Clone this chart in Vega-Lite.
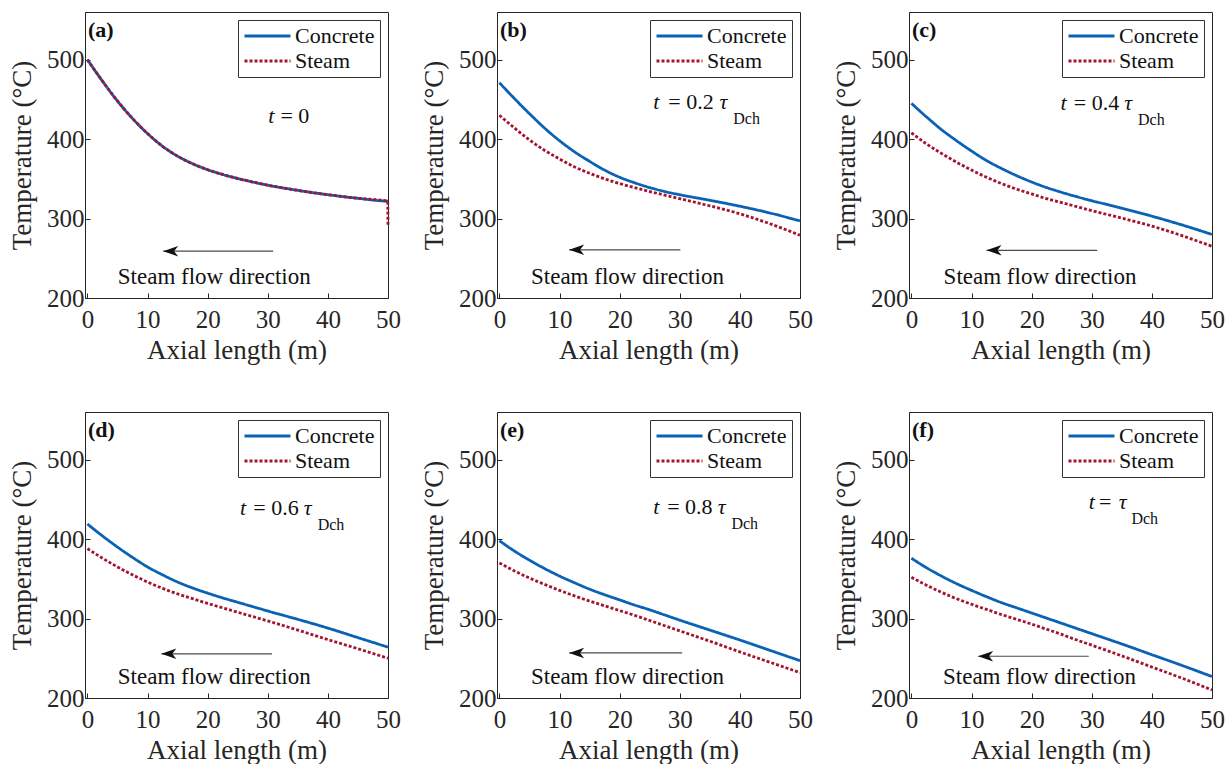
{
  "$schema": "https://vega.github.io/schema/vega-lite/v6.json",
  "padding": {"left": 8, "top": 11, "right": 0, "bottom": 0},
  "background": "white",
  "datasets": {
    "lines": [
      {"p":"a","x":0,"Concrete":500,"Steam":500},{"p":"a","x":2.5,"Concrete":473,"Steam":473},{"p":"a","x":5,"Concrete":448,"Steam":448},{"p":"a","x":7.5,"Concrete":426,"Steam":426},{"p":"a","x":10,"Concrete":407,"Steam":407},{"p":"a","x":12.5,"Concrete":391,"Steam":391},{"p":"a","x":15,"Concrete":378.5,"Steam":378.5},{"p":"a","x":17.5,"Concrete":369,"Steam":369},{"p":"a","x":20,"Concrete":361.5,"Steam":361.5},{"p":"a","x":22.5,"Concrete":355.5,"Steam":355.5},{"p":"a","x":25,"Concrete":350.5,"Steam":350.5},{"p":"a","x":27.5,"Concrete":346,"Steam":346},{"p":"a","x":30,"Concrete":342,"Steam":342},{"p":"a","x":35,"Concrete":335.5,"Steam":335.5},{"p":"a","x":40,"Concrete":330,"Steam":330},{"p":"a","x":45,"Concrete":325.5,"Steam":325.5},{"p":"a","x":49.95,"Concrete":322,"Steam":322},{"p":"a","x":50,"Concrete":322,"Steam":290},
      {"p":"b","x":0,"Concrete":471,"Steam":430},{"p":"b","x":2.5,"Concrete":451,"Steam":414},{"p":"b","x":5,"Concrete":432,"Steam":399},{"p":"b","x":7.5,"Concrete":414,"Steam":386},{"p":"b","x":10,"Concrete":398,"Steam":375},{"p":"b","x":12.5,"Concrete":384,"Steam":365},{"p":"b","x":15,"Concrete":372,"Steam":357},{"p":"b","x":17.5,"Concrete":361,"Steam":350},{"p":"b","x":20,"Concrete":352,"Steam":344},{"p":"b","x":22.5,"Concrete":345,"Steam":339},{"p":"b","x":25,"Concrete":339,"Steam":334},{"p":"b","x":27.5,"Concrete":334,"Steam":329.5},{"p":"b","x":30,"Concrete":330,"Steam":325},{"p":"b","x":35,"Concrete":323,"Steam":316},{"p":"b","x":40,"Concrete":315.5,"Steam":306},{"p":"b","x":45,"Concrete":307,"Steam":293.5},{"p":"b","x":50,"Concrete":297,"Steam":279},
      {"p":"c","x":0,"Concrete":445,"Steam":408},{"p":"c","x":2.5,"Concrete":428,"Steam":394},{"p":"c","x":5,"Concrete":412,"Steam":382},{"p":"c","x":7.5,"Concrete":398,"Steam":371},{"p":"c","x":10,"Concrete":385,"Steam":361},{"p":"c","x":12.5,"Concrete":373,"Steam":352},{"p":"c","x":15,"Concrete":363,"Steam":344},{"p":"c","x":17.5,"Concrete":354,"Steam":337},{"p":"c","x":20,"Concrete":346,"Steam":331},{"p":"c","x":22.5,"Concrete":339,"Steam":325},{"p":"c","x":25,"Concrete":333,"Steam":320},{"p":"c","x":27.5,"Concrete":327.5,"Steam":315},{"p":"c","x":30,"Concrete":322.5,"Steam":310},{"p":"c","x":35,"Concrete":313,"Steam":300.5},{"p":"c","x":40,"Concrete":303,"Steam":290.5},{"p":"c","x":45,"Concrete":292,"Steam":278.5},{"p":"c","x":50,"Concrete":280,"Steam":265},
      {"p":"d","x":0,"Concrete":419,"Steam":388},{"p":"d","x":2.5,"Concrete":404,"Steam":376},{"p":"d","x":5,"Concrete":390,"Steam":365},{"p":"d","x":7.5,"Concrete":377,"Steam":355},{"p":"d","x":10,"Concrete":365,"Steam":346},{"p":"d","x":12.5,"Concrete":355,"Steam":338},{"p":"d","x":15,"Concrete":346,"Steam":331},{"p":"d","x":17.5,"Concrete":338.5,"Steam":325},{"p":"d","x":20,"Concrete":332,"Steam":319},{"p":"d","x":22.5,"Concrete":326,"Steam":313.5},{"p":"d","x":25,"Concrete":320.5,"Steam":308},{"p":"d","x":27.5,"Concrete":315,"Steam":302.5},{"p":"d","x":30,"Concrete":309.5,"Steam":297},{"p":"d","x":35,"Concrete":299,"Steam":285.5},{"p":"d","x":40,"Concrete":288,"Steam":273.5},{"p":"d","x":45,"Concrete":276,"Steam":262},{"p":"d","x":50,"Concrete":264,"Steam":250},
      {"p":"e","x":0,"Concrete":398,"Steam":370},{"p":"e","x":2.5,"Concrete":385,"Steam":360},{"p":"e","x":5,"Concrete":373.5,"Steam":351},{"p":"e","x":7.5,"Concrete":363,"Steam":343},{"p":"e","x":10,"Concrete":353.5,"Steam":335.5},{"p":"e","x":12.5,"Concrete":345,"Steam":328.5},{"p":"e","x":15,"Concrete":337,"Steam":322},{"p":"e","x":17.5,"Concrete":330,"Steam":316},{"p":"e","x":20,"Concrete":323.5,"Steam":310},{"p":"e","x":22.5,"Concrete":317,"Steam":304},{"p":"e","x":25,"Concrete":311,"Steam":297.5},{"p":"e","x":27.5,"Concrete":304.5,"Steam":291},{"p":"e","x":30,"Concrete":298,"Steam":284.5},{"p":"e","x":35,"Concrete":285.5,"Steam":271.5},{"p":"e","x":40,"Concrete":273,"Steam":258},{"p":"e","x":45,"Concrete":260,"Steam":245},{"p":"e","x":50,"Concrete":247,"Steam":232},
      {"p":"f","x":0,"Concrete":376,"Steam":352},{"p":"f","x":2.5,"Concrete":364,"Steam":342},{"p":"f","x":5,"Concrete":353.5,"Steam":333},{"p":"f","x":7.5,"Concrete":344,"Steam":325},{"p":"f","x":10,"Concrete":335.5,"Steam":318},{"p":"f","x":12.5,"Concrete":327.5,"Steam":311.5},{"p":"f","x":15,"Concrete":320,"Steam":305},{"p":"f","x":17.5,"Concrete":313.5,"Steam":299},{"p":"f","x":20,"Concrete":307,"Steam":293},{"p":"f","x":22.5,"Concrete":300.5,"Steam":286.5},{"p":"f","x":25,"Concrete":294,"Steam":280},{"p":"f","x":27.5,"Concrete":287.5,"Steam":273},{"p":"f","x":30,"Concrete":281,"Steam":266.5},{"p":"f","x":35,"Concrete":268,"Steam":253},{"p":"f","x":40,"Concrete":254.5,"Steam":239},{"p":"f","x":45,"Concrete":241,"Steam":225},{"p":"f","x":50,"Concrete":227,"Steam":210}
    ],
    "arrows": [
      {"p":"a","x":30.9,"x2":12.6,"y":259},
      {"p":"b","x":30.1,"x2":11.6,"y":260.6},
      {"p":"c","x":30.9,"x2":12.5,"y":260},
      {"p":"d","x":30.7,"x2":12.3,"y":255.6},
      {"p":"e","x":30.4,"x2":11.6,"y":256.8},
      {"p":"f","x":29.5,"x2":11.1,"y":252.6}
    ],
    "notes": [
      {"p":"a","k":"lab","x":0.1,"y":537,"t":"(a)"},
      {"p":"a","k":"it","x":30.1,"y":428.5,"t":"t"},
      {"p":"a","k":"rm","x":32.1,"y":428.5,"t":"= 0"},
      {"p":"a","k":"flow","x":21.1,"y":226.5,"t":"Steam flow direction"},
      {"p":"a","k":"head","x":12.6,"y":259,"t":""},
      {"p":"b","k":"lab","x":0.1,"y":537,"t":"(b)"},
      {"p":"b","k":"it","x":25.6,"y":447,"t":"t"},
      {"p":"b","k":"rm","x":28.1,"y":447,"t":"= 0.2"},
      {"p":"b","k":"it","x":36.6,"y":447,"t":"τ"},
      {"p":"b","k":"sub","x":38.9,"y":425,"t":"Dch"},
      {"p":"b","k":"flow","x":21.3,"y":226.5,"t":"Steam flow direction"},
      {"p":"b","k":"head","x":11.6,"y":260.6,"t":""},
      {"p":"c","k":"lab","x":0.1,"y":537,"t":"(c)"},
      {"p":"c","k":"it","x":24.8,"y":445,"t":"t"},
      {"p":"c","k":"rm","x":27.0,"y":445,"t":"= 0.4"},
      {"p":"c","k":"it","x":35.4,"y":445,"t":"τ"},
      {"p":"c","k":"sub","x":37.7,"y":424,"t":"Dch"},
      {"p":"c","k":"flow","x":21.4,"y":226.5,"t":"Steam flow direction"},
      {"p":"c","k":"head","x":12.5,"y":260,"t":""},
      {"p":"d","k":"lab","x":0.1,"y":537,"t":"(d)"},
      {"p":"d","k":"it","x":25.4,"y":439,"t":"t"},
      {"p":"d","k":"rm","x":27.6,"y":439,"t":"= 0.6"},
      {"p":"d","k":"it","x":36.0,"y":439,"t":"τ"},
      {"p":"d","k":"sub","x":38.3,"y":418,"t":"Dch"},
      {"p":"d","k":"flow","x":21.1,"y":227,"t":"Steam flow direction"},
      {"p":"d","k":"head","x":12.3,"y":255.6,"t":""},
      {"p":"e","k":"lab","x":0.1,"y":537,"t":"(e)"},
      {"p":"e","k":"it","x":25.6,"y":440,"t":"t"},
      {"p":"e","k":"rm","x":27.9,"y":440,"t":"= 0.8"},
      {"p":"e","k":"it","x":36.3,"y":440,"t":"τ"},
      {"p":"e","k":"sub","x":38.6,"y":419,"t":"Dch"},
      {"p":"e","k":"flow","x":21.3,"y":227,"t":"Steam flow direction"},
      {"p":"e","k":"head","x":11.6,"y":256.8,"t":""},
      {"p":"f","k":"lab","x":0.1,"y":537,"t":"(f)"},
      {"p":"f","k":"it","x":29.5,"y":447,"t":"t"},
      {"p":"f","k":"rm","x":31.2,"y":447,"t":"="},
      {"p":"f","k":"it","x":34.5,"y":447,"t":"τ"},
      {"p":"f","k":"sub","x":36.6,"y":425,"t":"Dch"},
      {"p":"f","k":"flow","x":21.3,"y":226,"t":"Steam flow direction"},
      {"p":"f","k":"head","x":11.1,"y":252.6,"t":""}
    ]
  },
  "columns": 3,
  "spacing": {"row": 114, "column": 109},
  "bounds": "flush",
  "resolve": {"scale": {"color": "independent", "strokeDash": "independent", "x": "independent", "y": "independent"}, "legend": {"color": "independent", "strokeDash": "independent"}},
  "concat": [
    {"width":303,"height":286,
     "encoding":{"x":{"field":"x","type":"quantitative","scale":{"domain":[-0.4,50],"nice":false,"zero":false},"axis":{"title":"Axial length (m)","values":[0,10,20,30,40,50]}},"y":{"field":"y","type":"quantitative","scale":{"domain":[200,560],"nice":false,"zero":false},"axis":{"title":"Temperature (°C)","values":[200,300,400,500]}}},
     "layer":[
      {"data":{"name":"lines"},"transform":[{"filter":"datum.p==='a'"},{"fold":["Concrete","Steam"],"as":["s","y"]}],"mark":{"type":"line","strokeWidth":2.8,"interpolate":"monotone"},"encoding":{"color":{"field":"s","type":"nominal","scale":{"domain":["Concrete","Steam"],"range":["#0a62b5","#a2142f"]},"legend":{"title":null}},"strokeDash":{"field":"s","type":"nominal","scale":{"domain":["Concrete","Steam"],"range":[[1,0],[3,2]]},"legend":{"title":null}}}},
      {"data":{"name":"arrows"},"transform":[{"filter":"datum.p==='a'"}],"mark":{"type":"rule","color":"#4a4a4a","strokeWidth":1.1},"encoding":{"x2":{"field":"x2"}}},
      {"data":{"name":"notes"},"transform":[{"filter":"datum.p==='a'&&datum.k==='head'"}],"mark":{"type":"point","shape":"M 0 0 L 2 -0.7 L 1.45 0 L 2 0.7 Z","filled":true,"size":225,"color":"#111","opacity":1}},
      {"data":{"name":"notes"},"transform":[{"filter":"datum.p==='a'&&datum.k==='flow'"}],"mark":{"type":"text","font":"Liberation Serif","fontSize":23,"align":"center","baseline":"middle","color":"#111"},"encoding":{"text":{"field":"t"}}},
      {"data":{"name":"notes"},"transform":[{"filter":"datum.p==='a'&&datum.k==='lab'"}],"mark":{"type":"text","font":"Liberation Serif","fontSize":22,"fontWeight":"bold","align":"left","baseline":"middle","color":"#111"},"encoding":{"text":{"field":"t"}}},
      {"data":{"name":"notes"},"transform":[{"filter":"datum.p==='a'&&datum.k==='it'"}],"mark":{"type":"text","font":"Liberation Serif","fontSize":22,"fontStyle":"italic","align":"left","baseline":"middle","color":"#111"},"encoding":{"text":{"field":"t"}}},
      {"data":{"name":"notes"},"transform":[{"filter":"datum.p==='a'&&datum.k==='rm'"}],"mark":{"type":"text","font":"Liberation Serif","fontSize":22,"align":"left","baseline":"middle","color":"#111"},"encoding":{"text":{"field":"t"}}}
     ]},
    {"width":303,"height":286,
     "encoding":{"x":{"field":"x","type":"quantitative","scale":{"domain":[-0.4,50],"nice":false,"zero":false},"axis":{"title":"Axial length (m)","values":[0,10,20,30,40,50]}},"y":{"field":"y","type":"quantitative","scale":{"domain":[200,560],"nice":false,"zero":false},"axis":{"title":"Temperature (°C)","values":[200,300,400,500]}}},
     "layer":[
      {"data":{"name":"lines"},"transform":[{"filter":"datum.p==='b'"},{"fold":["Concrete","Steam"],"as":["s","y"]}],"mark":{"type":"line","strokeWidth":2.8,"interpolate":"monotone"},"encoding":{"color":{"field":"s","type":"nominal","scale":{"domain":["Concrete","Steam"],"range":["#0a62b5","#a2142f"]},"legend":{"title":null}},"strokeDash":{"field":"s","type":"nominal","scale":{"domain":["Concrete","Steam"],"range":[[1,0],[3,2]]},"legend":{"title":null}}}},
      {"data":{"name":"arrows"},"transform":[{"filter":"datum.p==='b'"}],"mark":{"type":"rule","color":"#4a4a4a","strokeWidth":1.1},"encoding":{"x2":{"field":"x2"}}},
      {"data":{"name":"notes"},"transform":[{"filter":"datum.p==='b'&&datum.k==='head'"}],"mark":{"type":"point","shape":"M 0 0 L 2 -0.7 L 1.45 0 L 2 0.7 Z","filled":true,"size":225,"color":"#111","opacity":1}},
      {"data":{"name":"notes"},"transform":[{"filter":"datum.p==='b'&&datum.k==='flow'"}],"mark":{"type":"text","font":"Liberation Serif","fontSize":23,"align":"center","baseline":"middle","color":"#111"},"encoding":{"text":{"field":"t"}}},
      {"data":{"name":"notes"},"transform":[{"filter":"datum.p==='b'&&datum.k==='lab'"}],"mark":{"type":"text","font":"Liberation Serif","fontSize":22,"fontWeight":"bold","align":"left","baseline":"middle","color":"#111"},"encoding":{"text":{"field":"t"}}},
      {"data":{"name":"notes"},"transform":[{"filter":"datum.p==='b'&&datum.k==='it'"}],"mark":{"type":"text","font":"Liberation Serif","fontSize":22,"fontStyle":"italic","align":"left","baseline":"middle","color":"#111"},"encoding":{"text":{"field":"t"}}},
      {"data":{"name":"notes"},"transform":[{"filter":"datum.p==='b'&&datum.k==='rm'"}],"mark":{"type":"text","font":"Liberation Serif","fontSize":22,"align":"left","baseline":"middle","color":"#111"},"encoding":{"text":{"field":"t"}}},
      {"data":{"name":"notes"},"transform":[{"filter":"datum.p==='b'&&datum.k==='sub'"}],"mark":{"type":"text","font":"Liberation Serif","fontSize":16,"align":"left","baseline":"middle","color":"#111"},"encoding":{"text":{"field":"t"}}}
     ]},
    {"width":303,"height":286,
     "encoding":{"x":{"field":"x","type":"quantitative","scale":{"domain":[-0.4,50],"nice":false,"zero":false},"axis":{"title":"Axial length (m)","values":[0,10,20,30,40,50]}},"y":{"field":"y","type":"quantitative","scale":{"domain":[200,560],"nice":false,"zero":false},"axis":{"title":"Temperature (°C)","values":[200,300,400,500]}}},
     "layer":[
      {"data":{"name":"lines"},"transform":[{"filter":"datum.p==='c'"},{"fold":["Concrete","Steam"],"as":["s","y"]}],"mark":{"type":"line","strokeWidth":2.8,"interpolate":"monotone"},"encoding":{"color":{"field":"s","type":"nominal","scale":{"domain":["Concrete","Steam"],"range":["#0a62b5","#a2142f"]},"legend":{"title":null}},"strokeDash":{"field":"s","type":"nominal","scale":{"domain":["Concrete","Steam"],"range":[[1,0],[3,2]]},"legend":{"title":null}}}},
      {"data":{"name":"arrows"},"transform":[{"filter":"datum.p==='c'"}],"mark":{"type":"rule","color":"#4a4a4a","strokeWidth":1.1},"encoding":{"x2":{"field":"x2"}}},
      {"data":{"name":"notes"},"transform":[{"filter":"datum.p==='c'&&datum.k==='head'"}],"mark":{"type":"point","shape":"M 0 0 L 2 -0.7 L 1.45 0 L 2 0.7 Z","filled":true,"size":225,"color":"#111","opacity":1}},
      {"data":{"name":"notes"},"transform":[{"filter":"datum.p==='c'&&datum.k==='flow'"}],"mark":{"type":"text","font":"Liberation Serif","fontSize":23,"align":"center","baseline":"middle","color":"#111"},"encoding":{"text":{"field":"t"}}},
      {"data":{"name":"notes"},"transform":[{"filter":"datum.p==='c'&&datum.k==='lab'"}],"mark":{"type":"text","font":"Liberation Serif","fontSize":22,"fontWeight":"bold","align":"left","baseline":"middle","color":"#111"},"encoding":{"text":{"field":"t"}}},
      {"data":{"name":"notes"},"transform":[{"filter":"datum.p==='c'&&datum.k==='it'"}],"mark":{"type":"text","font":"Liberation Serif","fontSize":22,"fontStyle":"italic","align":"left","baseline":"middle","color":"#111"},"encoding":{"text":{"field":"t"}}},
      {"data":{"name":"notes"},"transform":[{"filter":"datum.p==='c'&&datum.k==='rm'"}],"mark":{"type":"text","font":"Liberation Serif","fontSize":22,"align":"left","baseline":"middle","color":"#111"},"encoding":{"text":{"field":"t"}}},
      {"data":{"name":"notes"},"transform":[{"filter":"datum.p==='c'&&datum.k==='sub'"}],"mark":{"type":"text","font":"Liberation Serif","fontSize":16,"align":"left","baseline":"middle","color":"#111"},"encoding":{"text":{"field":"t"}}}
     ]},
    {"width":303,"height":286,
     "encoding":{"x":{"field":"x","type":"quantitative","scale":{"domain":[-0.4,50],"nice":false,"zero":false},"axis":{"title":"Axial length (m)","values":[0,10,20,30,40,50]}},"y":{"field":"y","type":"quantitative","scale":{"domain":[200,560],"nice":false,"zero":false},"axis":{"title":"Temperature (°C)","values":[200,300,400,500]}}},
     "layer":[
      {"data":{"name":"lines"},"transform":[{"filter":"datum.p==='d'"},{"fold":["Concrete","Steam"],"as":["s","y"]}],"mark":{"type":"line","strokeWidth":2.8,"interpolate":"monotone"},"encoding":{"color":{"field":"s","type":"nominal","scale":{"domain":["Concrete","Steam"],"range":["#0a62b5","#a2142f"]},"legend":{"title":null}},"strokeDash":{"field":"s","type":"nominal","scale":{"domain":["Concrete","Steam"],"range":[[1,0],[3,2]]},"legend":{"title":null}}}},
      {"data":{"name":"arrows"},"transform":[{"filter":"datum.p==='d'"}],"mark":{"type":"rule","color":"#4a4a4a","strokeWidth":1.1},"encoding":{"x2":{"field":"x2"}}},
      {"data":{"name":"notes"},"transform":[{"filter":"datum.p==='d'&&datum.k==='head'"}],"mark":{"type":"point","shape":"M 0 0 L 2 -0.7 L 1.45 0 L 2 0.7 Z","filled":true,"size":225,"color":"#111","opacity":1}},
      {"data":{"name":"notes"},"transform":[{"filter":"datum.p==='d'&&datum.k==='flow'"}],"mark":{"type":"text","font":"Liberation Serif","fontSize":23,"align":"center","baseline":"middle","color":"#111"},"encoding":{"text":{"field":"t"}}},
      {"data":{"name":"notes"},"transform":[{"filter":"datum.p==='d'&&datum.k==='lab'"}],"mark":{"type":"text","font":"Liberation Serif","fontSize":22,"fontWeight":"bold","align":"left","baseline":"middle","color":"#111"},"encoding":{"text":{"field":"t"}}},
      {"data":{"name":"notes"},"transform":[{"filter":"datum.p==='d'&&datum.k==='it'"}],"mark":{"type":"text","font":"Liberation Serif","fontSize":22,"fontStyle":"italic","align":"left","baseline":"middle","color":"#111"},"encoding":{"text":{"field":"t"}}},
      {"data":{"name":"notes"},"transform":[{"filter":"datum.p==='d'&&datum.k==='rm'"}],"mark":{"type":"text","font":"Liberation Serif","fontSize":22,"align":"left","baseline":"middle","color":"#111"},"encoding":{"text":{"field":"t"}}},
      {"data":{"name":"notes"},"transform":[{"filter":"datum.p==='d'&&datum.k==='sub'"}],"mark":{"type":"text","font":"Liberation Serif","fontSize":16,"align":"left","baseline":"middle","color":"#111"},"encoding":{"text":{"field":"t"}}}
     ]},
    {"width":303,"height":286,
     "encoding":{"x":{"field":"x","type":"quantitative","scale":{"domain":[-0.4,50],"nice":false,"zero":false},"axis":{"title":"Axial length (m)","values":[0,10,20,30,40,50]}},"y":{"field":"y","type":"quantitative","scale":{"domain":[200,560],"nice":false,"zero":false},"axis":{"title":"Temperature (°C)","values":[200,300,400,500]}}},
     "layer":[
      {"data":{"name":"lines"},"transform":[{"filter":"datum.p==='e'"},{"fold":["Concrete","Steam"],"as":["s","y"]}],"mark":{"type":"line","strokeWidth":2.8,"interpolate":"monotone"},"encoding":{"color":{"field":"s","type":"nominal","scale":{"domain":["Concrete","Steam"],"range":["#0a62b5","#a2142f"]},"legend":{"title":null}},"strokeDash":{"field":"s","type":"nominal","scale":{"domain":["Concrete","Steam"],"range":[[1,0],[3,2]]},"legend":{"title":null}}}},
      {"data":{"name":"arrows"},"transform":[{"filter":"datum.p==='e'"}],"mark":{"type":"rule","color":"#4a4a4a","strokeWidth":1.1},"encoding":{"x2":{"field":"x2"}}},
      {"data":{"name":"notes"},"transform":[{"filter":"datum.p==='e'&&datum.k==='head'"}],"mark":{"type":"point","shape":"M 0 0 L 2 -0.7 L 1.45 0 L 2 0.7 Z","filled":true,"size":225,"color":"#111","opacity":1}},
      {"data":{"name":"notes"},"transform":[{"filter":"datum.p==='e'&&datum.k==='flow'"}],"mark":{"type":"text","font":"Liberation Serif","fontSize":23,"align":"center","baseline":"middle","color":"#111"},"encoding":{"text":{"field":"t"}}},
      {"data":{"name":"notes"},"transform":[{"filter":"datum.p==='e'&&datum.k==='lab'"}],"mark":{"type":"text","font":"Liberation Serif","fontSize":22,"fontWeight":"bold","align":"left","baseline":"middle","color":"#111"},"encoding":{"text":{"field":"t"}}},
      {"data":{"name":"notes"},"transform":[{"filter":"datum.p==='e'&&datum.k==='it'"}],"mark":{"type":"text","font":"Liberation Serif","fontSize":22,"fontStyle":"italic","align":"left","baseline":"middle","color":"#111"},"encoding":{"text":{"field":"t"}}},
      {"data":{"name":"notes"},"transform":[{"filter":"datum.p==='e'&&datum.k==='rm'"}],"mark":{"type":"text","font":"Liberation Serif","fontSize":22,"align":"left","baseline":"middle","color":"#111"},"encoding":{"text":{"field":"t"}}},
      {"data":{"name":"notes"},"transform":[{"filter":"datum.p==='e'&&datum.k==='sub'"}],"mark":{"type":"text","font":"Liberation Serif","fontSize":16,"align":"left","baseline":"middle","color":"#111"},"encoding":{"text":{"field":"t"}}}
     ]},
    {"width":303,"height":286,
     "encoding":{"x":{"field":"x","type":"quantitative","scale":{"domain":[-0.4,50],"nice":false,"zero":false},"axis":{"title":"Axial length (m)","values":[0,10,20,30,40,50]}},"y":{"field":"y","type":"quantitative","scale":{"domain":[200,560],"nice":false,"zero":false},"axis":{"title":"Temperature (°C)","values":[200,300,400,500]}}},
     "layer":[
      {"data":{"name":"lines"},"transform":[{"filter":"datum.p==='f'"},{"fold":["Concrete","Steam"],"as":["s","y"]}],"mark":{"type":"line","strokeWidth":2.8,"interpolate":"monotone"},"encoding":{"color":{"field":"s","type":"nominal","scale":{"domain":["Concrete","Steam"],"range":["#0a62b5","#a2142f"]},"legend":{"title":null}},"strokeDash":{"field":"s","type":"nominal","scale":{"domain":["Concrete","Steam"],"range":[[1,0],[3,2]]},"legend":{"title":null}}}},
      {"data":{"name":"arrows"},"transform":[{"filter":"datum.p==='f'"}],"mark":{"type":"rule","color":"#4a4a4a","strokeWidth":1.1},"encoding":{"x2":{"field":"x2"}}},
      {"data":{"name":"notes"},"transform":[{"filter":"datum.p==='f'&&datum.k==='head'"}],"mark":{"type":"point","shape":"M 0 0 L 2 -0.7 L 1.45 0 L 2 0.7 Z","filled":true,"size":225,"color":"#111","opacity":1}},
      {"data":{"name":"notes"},"transform":[{"filter":"datum.p==='f'&&datum.k==='flow'"}],"mark":{"type":"text","font":"Liberation Serif","fontSize":23,"align":"center","baseline":"middle","color":"#111"},"encoding":{"text":{"field":"t"}}},
      {"data":{"name":"notes"},"transform":[{"filter":"datum.p==='f'&&datum.k==='lab'"}],"mark":{"type":"text","font":"Liberation Serif","fontSize":22,"fontWeight":"bold","align":"left","baseline":"middle","color":"#111"},"encoding":{"text":{"field":"t"}}},
      {"data":{"name":"notes"},"transform":[{"filter":"datum.p==='f'&&datum.k==='it'"}],"mark":{"type":"text","font":"Liberation Serif","fontSize":22,"fontStyle":"italic","align":"left","baseline":"middle","color":"#111"},"encoding":{"text":{"field":"t"}}},
      {"data":{"name":"notes"},"transform":[{"filter":"datum.p==='f'&&datum.k==='rm'"}],"mark":{"type":"text","font":"Liberation Serif","fontSize":22,"align":"left","baseline":"middle","color":"#111"},"encoding":{"text":{"field":"t"}}},
      {"data":{"name":"notes"},"transform":[{"filter":"datum.p==='f'&&datum.k==='sub'"}],"mark":{"type":"text","font":"Liberation Serif","fontSize":16,"align":"left","baseline":"middle","color":"#111"},"encoding":{"text":{"field":"t"}}}
     ]}
  ],
  "config": {
    "font": "Liberation Serif",
    "view": {"stroke": "#262626", "strokeWidth": 1},
    "axis": {"grid": false, "labelFont": "Liberation Serif", "labelFontSize": 25, "labelColor": "#262626", "titleFont": "Liberation Serif", "titleFontSize": 27, "titleFontWeight": "normal", "titleColor": "#262626", "domainColor": "#262626", "tickColor": "#262626", "tickSize": -5, "labelFlush": false, "labelOverlap": false},
    "axisX": {"labelPadding": 14, "titlePadding": 5},
    "axisY": {"labelPadding": 6, "titlePadding": 10},
    "legend": {"orient": "top-right", "offset": 8, "padding": 5, "strokeColor": "#333", "fillColor": "#fff", "labelFont": "Liberation Serif", "labelFontSize": 22, "labelColor": "#111", "symbolType": "stroke", "symbolSize": 2116, "symbolStrokeWidth": 2.8, "rowPadding": 3, "labelOffset": 3, "clipHeight": 22, "cornerRadius": 0, "labelLimit": 300}
  }
}
